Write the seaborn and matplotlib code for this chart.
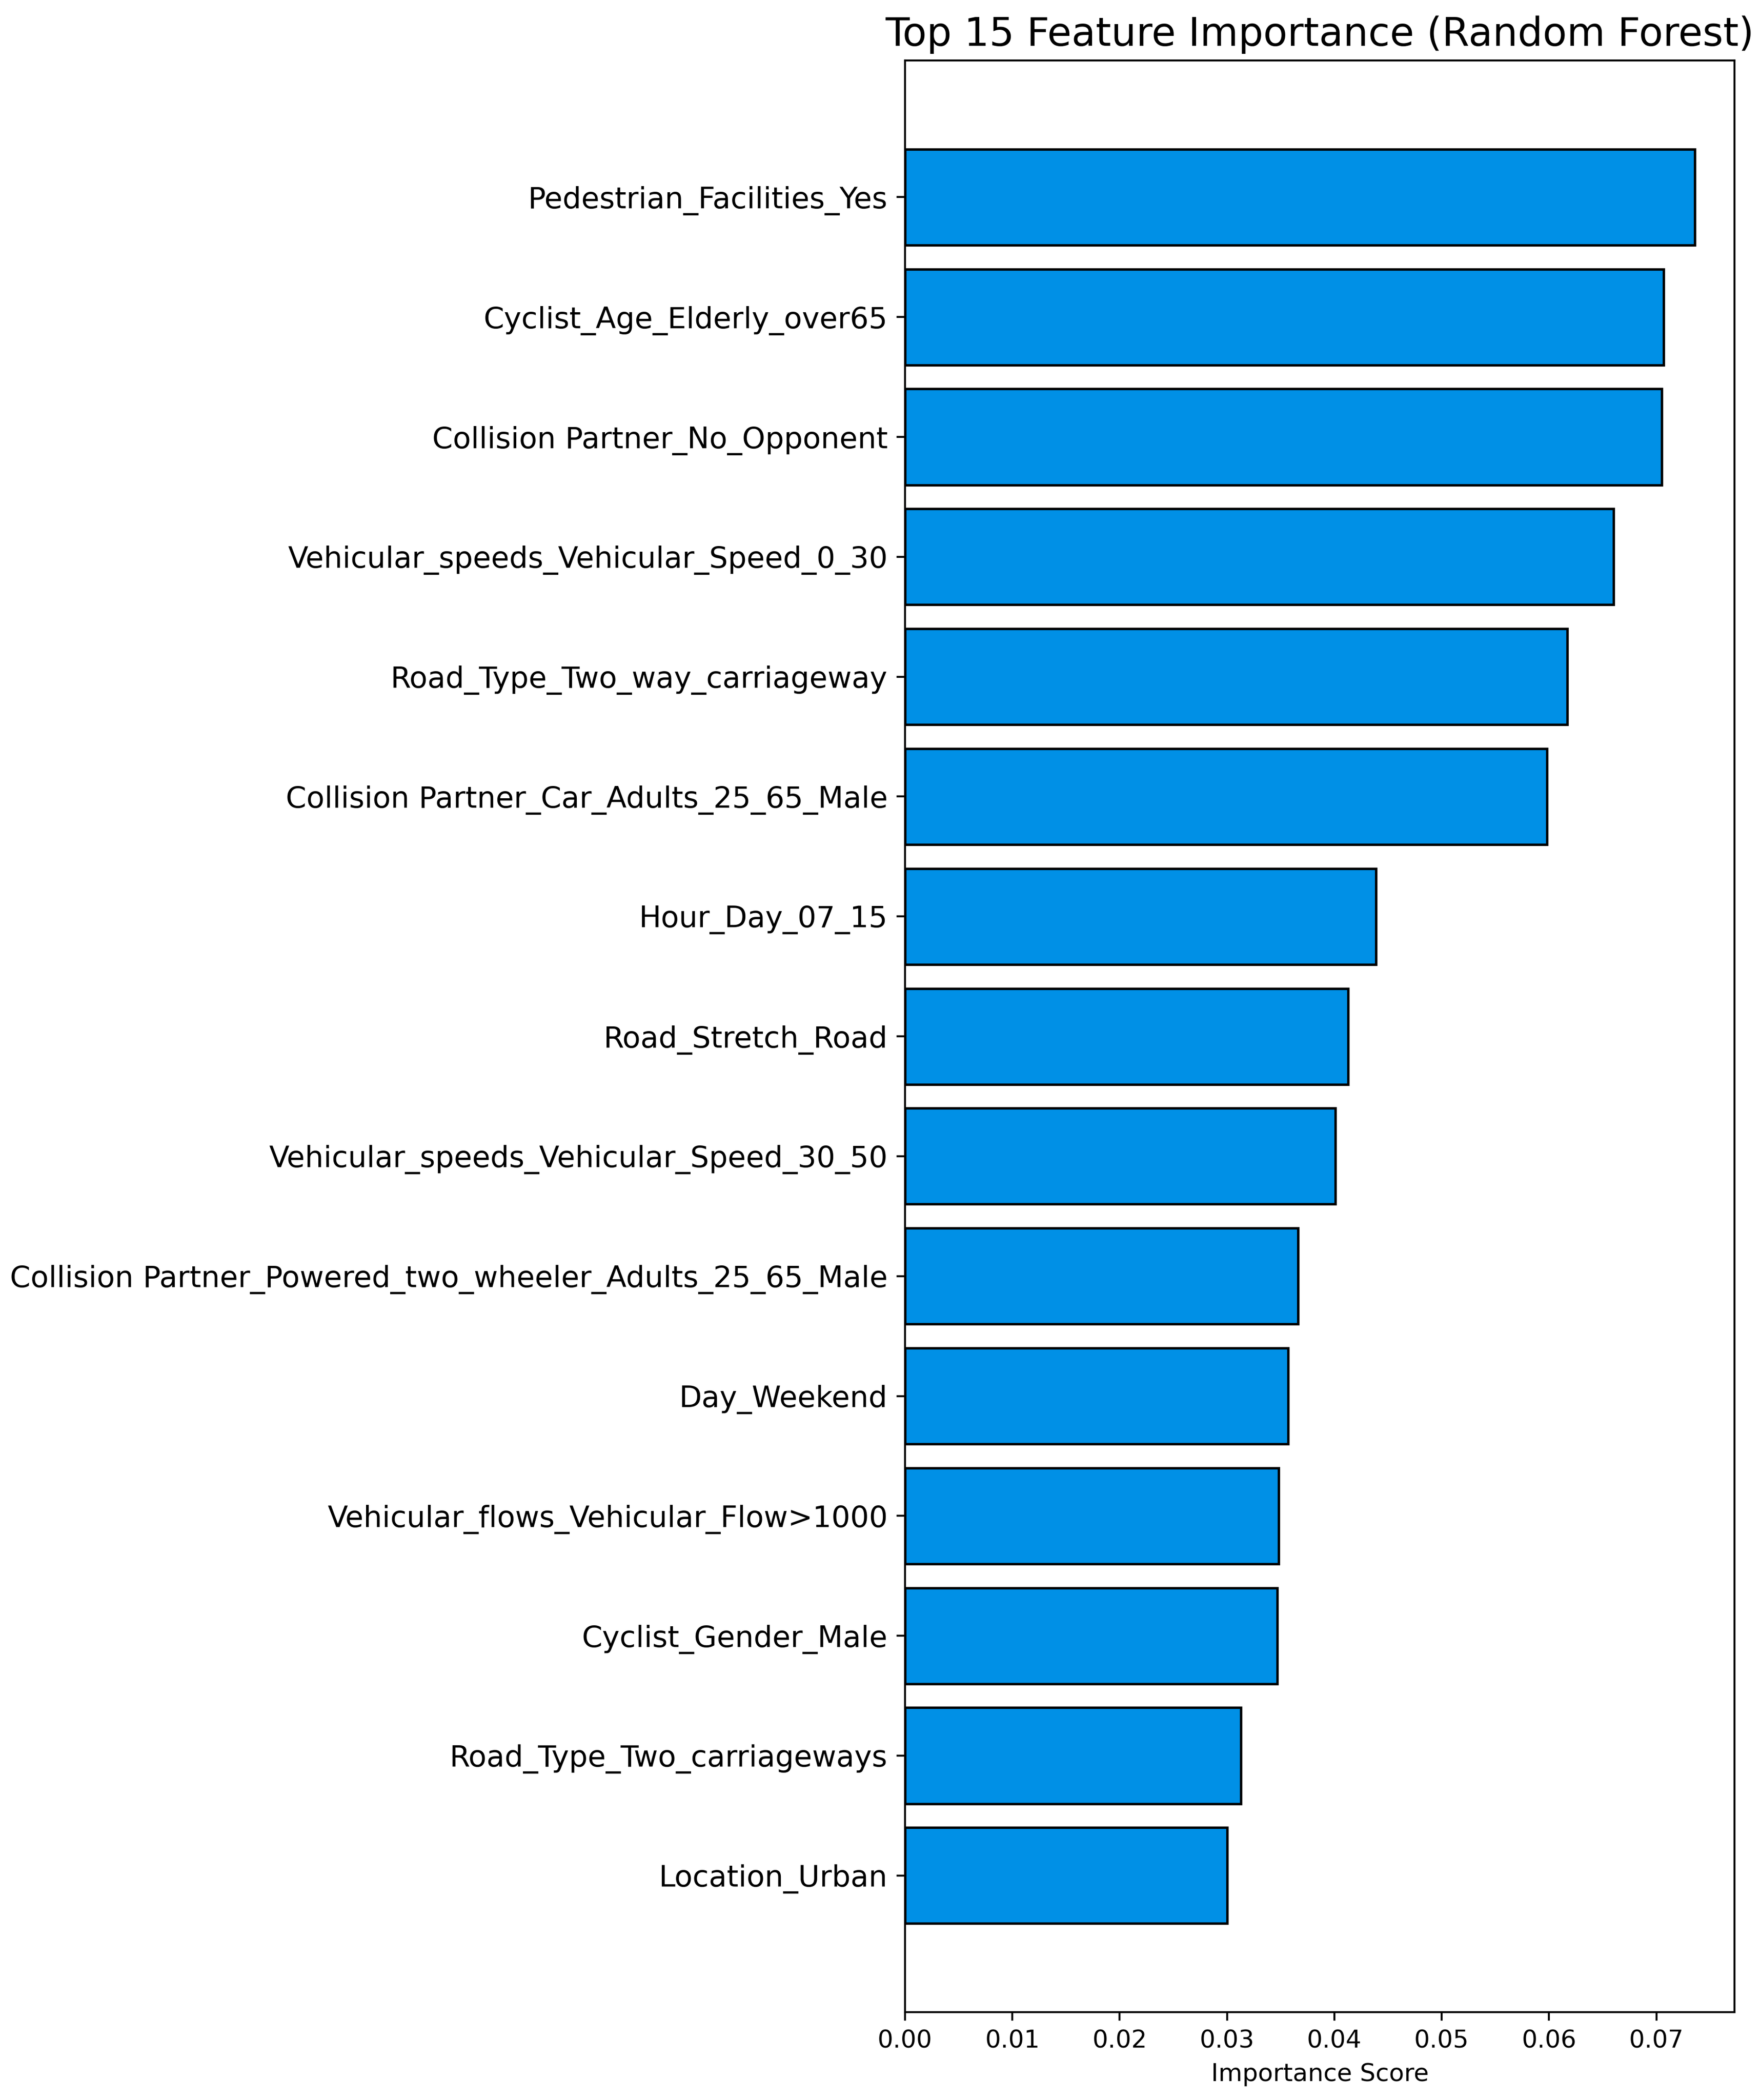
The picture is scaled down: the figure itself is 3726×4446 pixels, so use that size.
import pandas as pd
import matplotlib
matplotlib.use("Agg")
import matplotlib.pyplot as plt
import seaborn as sns

# ---------------------
# Data
# ---------------------
features = [
    "Pedestrian_Facilities_Yes",
    "Cyclist_Age_Elderly_over65",
    "Collision Partner_No_Opponent",
    "Vehicular_speeds_Vehicular_Speed_0_30",
    "Road_Type_Two_way_carriageway",
    "Collision Partner_Car_Adults_25_65_Male",
    "Hour_Day_07_15",
    "Road_Stretch_Road",
    "Vehicular_speeds_Vehicular_Speed_30_50",
    "Collision Partner_Powered_two_wheeler_Adults_25_65_Male",
    "Day_Weekend",
    "Vehicular_flows_Vehicular_Flow>1000",
    "Cyclist_Gender_Male",
    "Road_Type_Two_carriageways",
    "Location_Urban",
]
importances = [
    0.0736, 0.0707, 0.0705, 0.0660, 0.0617,
    0.0598, 0.0439, 0.0413, 0.0401, 0.0366,
    0.0357, 0.0348, 0.0347, 0.0313, 0.0300,
]

df = pd.DataFrame({"Feature": features, "Importance": importances})

# ---------------------
# Plot
# ---------------------
sns.set_style("ticks")
plt.rcParams["font.family"] = ["DejaVu Sans"]
plt.rcParams["text.color"] = "black"
plt.rcParams["axes.labelcolor"] = "black"
plt.rcParams["xtick.color"] = "black"
plt.rcParams["ytick.color"] = "black"

dpi = 375
fig = plt.figure(figsize=(3726 / dpi, 4446 / dpi), dpi=dpi)
ax = fig.add_axes([0.5142, 0.0418, 0.9855 - 0.5142, 0.9712 - 0.0418])

sns.barplot(
    data=df, x="Importance", y="Feature", orient="h",
    color="#0090e6", saturation=1, edgecolor="black", linewidth=1,
    width=0.8, ax=ax,
)

n = len(features)
ax.set_ylim(n - 1 + 1.14, -1.14)
ax.set_xlim(0, max(importances) * 1.05)
ax.set_xticks([0.00, 0.01, 0.02, 0.03, 0.04, 0.05, 0.06, 0.07])
ax.set_xticklabels([f"{t:.2f}" for t in ax.get_xticks()])

for s in ax.spines.values():
    s.set_visible(True)
    s.set_linewidth(0.8)
    s.set_color("black")

ax.tick_params(axis="y", labelsize=12, length=3.5, width=0.8,
               color="black", labelcolor="black")
ax.tick_params(axis="x", labelsize=10, length=3.5, width=0.8,
               color="black", labelcolor="black")
ax.set_ylabel("")
ax.set_xlabel("Importance Score", fontsize=10, color="black")
ax.set_title("Top 15 Feature Importance (Random Forest)", fontsize=16,
             color="black")

fig.savefig("out.png", dpi=dpi)
plt.close(fig)
